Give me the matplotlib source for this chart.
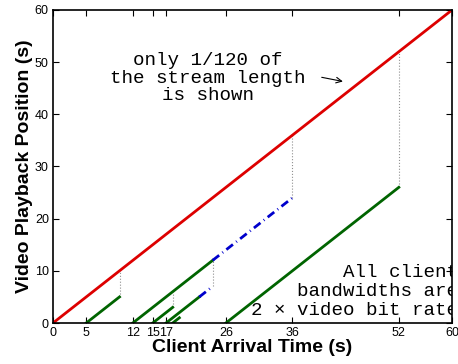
import numpy as np
import matplotlib.pyplot as plt

# stream playback line (red)
red_x = [0, 60]
red_y = [0, 60]

# client download segments (green), slope 1
green_x0 = [5, 12, 15, 17, 18, 26]
green_x1 = [10, 24, 18, 22, 19, 52]
green_y0 = [0, 0, 0, 0, 0, 0]
green_y1 = [5, 12, 3, 5, 1, 26]

# shared stream segments (blue dash-dot)
blue_x0 = [24, 22]
blue_x1 = [36, 24]
blue_y0 = [12, 5]
blue_y1 = [24, 7]

# gray dotted connectors
dot_x = [10, 18, 24, 36, 52]
dot_lo = [5, 3, 7, 24, 26]
dot_hi = [10, 6, 12, 36, 52]

xticks = [0, 5, 12, 15, 17, 26, 36, 52, 60]
yticks = [0, 10, 20, 30, 40, 50, 60]

fig = plt.figure(figsize=(4.58, 3.64), dpi=100)
ax = fig.add_axes([53/458, 41/364, 399/458, 313/364])

for i in range(len(dot_x)):
    ax.plot([dot_x[i], dot_x[i]], [dot_lo[i], dot_hi[i]], ':', color='#909090', lw=0.8)

ax.plot(red_x, red_y, '-', color='#dd0000', lw=2.0)
for i in range(len(green_x0)):
    ax.plot([green_x0[i], green_x1[i]], [green_y0[i], green_y1[i]], '-', color='#006400', lw=2.0)
for i in range(len(blue_x0)):
    ax.plot([blue_x0[i], blue_x1[i]], [blue_y0[i], blue_y1[i]], color='#0000cc', lw=2.0,
            linestyle=(0, (3, 1.5, 0.3, 1.5)))

ax.set_xlim(0, 60)
ax.set_ylim(0, 60)
ax.set_xticks(xticks)
ax.set_yticks(yticks)
ax.tick_params(direction='in', length=4, width=0.8, labelsize=9, top=True, right=True, pad=3)
for lab in ax.get_xticklabels() + ax.get_yticklabels():
    lab.set_family('Liberation Sans')
for s in ax.spines.values():
    s.set_linewidth(1.2)

ax.set_xlabel('Client Arrival Time (s)', fontsize=14, fontweight='bold', family='Liberation Sans', labelpad=0)
ax.set_ylabel('Video Playback Position (s)', fontsize=14, fontweight='bold', family='Liberation Sans', labelpad=1)

ax.text(23.3, 46.9, 'only 1/120 of\nthe stream length\nis shown', family='Liberation Mono',
        fontsize=13.8, ha='center', va='center', linespacing=1.05)
ax.annotate('', xy=(44.0, 46.2), xytext=(40.0, 47.2),
            arrowprops=dict(arrowstyle='->', color='black', lw=0.8))

ax.text(60.9, 6.0, 'All client\nbandwidths are\n2 \u00d7 video bit rate', family='Liberation Mono',
        fontsize=13.8, ha='right', va='center', multialignment='right', linespacing=1.15,
        clip_on=True)

fig.savefig('out.png', dpi=100)
